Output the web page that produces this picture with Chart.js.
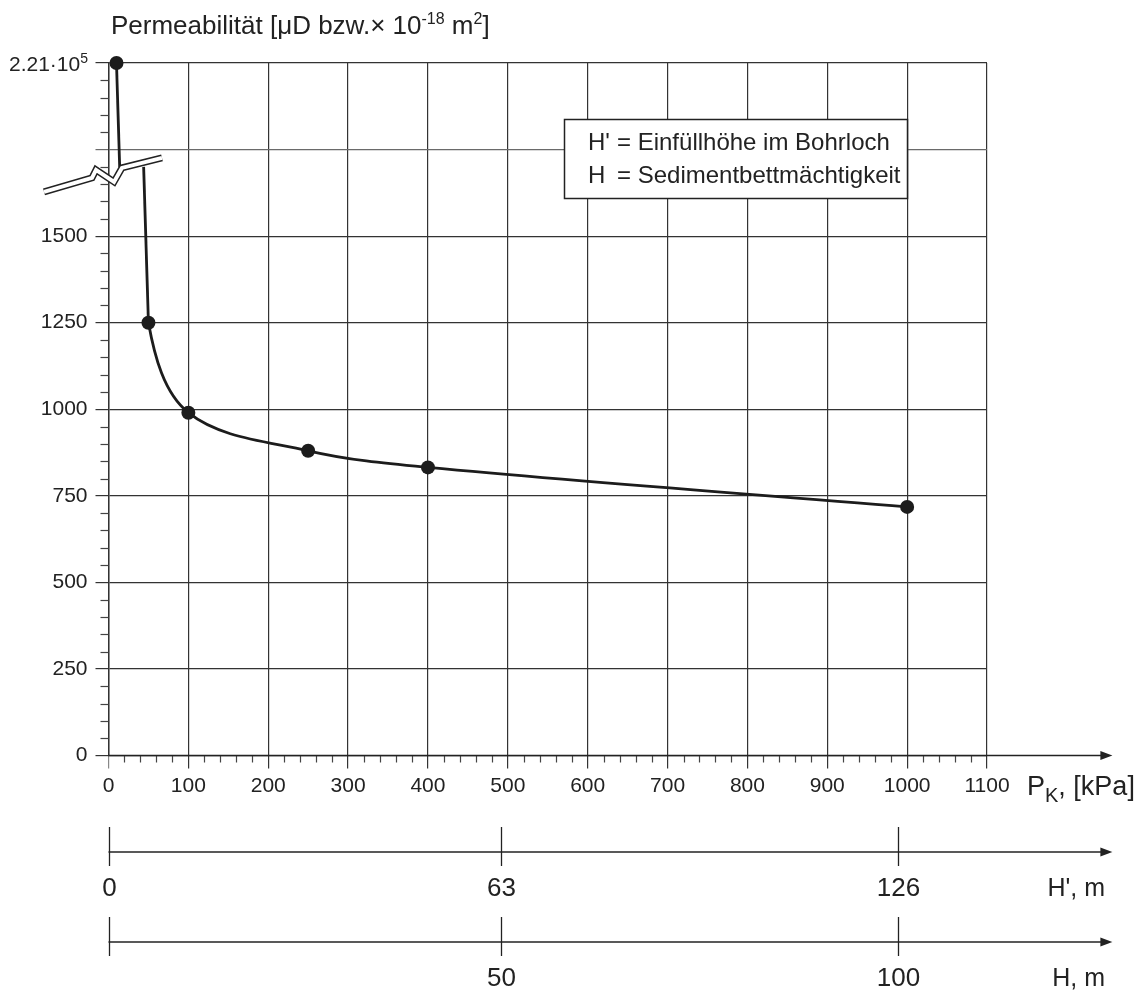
<!DOCTYPE html>
<html>
<head>
<meta charset="utf-8">
<script src="https://cdn.jsdelivr.net/npm/chart.js@4/dist/chart.umd.min.js"></script>
<style>
  html, body { margin: 0; padding: 0; background: #fff; }
  canvas { display: block; }
</style>
</head>
<body>
<canvas id="chart_permeability" width="1145" height="991"></canvas>
<script>
// values
const pressureKPa = [10, 50, 100, 250, 400, 1000];
const permeability = [221000, 1250, 990, 880, 832, 718];

// broken y axis: everything above breakFrom is drawn at axisTop
const breakFrom = 1750;
const breakLevel = 1700;
const axisTop = 2000;
const upperCurveEnd = 14;   // kPa where the steep piece runs into the break
const lowerCurveStart = 44; // kPa where the curve comes out of the break

const xTickValues = [0, 100, 200, 300, 400, 500, 600, 700, 800, 900, 1000, 1100];
const yTickValues = [0, 250, 500, 750, 1000, 1250, 1500];
const yTopLabel = ['2.21·10', '5'];

// secondary depth axes, tick positions in kPa
const hPrimeLabels = ['0', '63', '126'];
const hPrimeAtKPa = [0, 492, 988];
const hLabels = ['', '50', '100'];
const hAtKPa = [0, 492, 988];
const arrowEndKPa = 1257;

const legendLines = [['H\'', '= Einfüllhöhe im Bohrloch'], ['H', '= Sedimentbettmächtigkeit']];

const FONT = "'Liberation Sans', Arial, sans-serif";
const INK = '#222';
const LINE = '#1c1c1c';

const toAxis = v => (v > breakFrom ? axisTop : v);

const upperData = [
    { x: pressureKPa[0], y: toAxis(permeability[0]) },
    { x: upperCurveEnd, y: breakLevel },
];
const lowerData = [{ x: lowerCurveStart, y: breakLevel }].concat(
    pressureKPa.slice(1).map((p, i) => ({ x: p, y: toAxis(permeability[i + 1]) }))
);

function textRun(ctx, x, y, parts) {
    // parts: [text, size, dy]
    let cx = x;
    for (const [t, size, dy] of parts) {
        ctx.font = size + 'px ' + FONT;
        ctx.fillText(t, cx, y + dy);
        cx += ctx.measureText(t).width;
    }
    return cx;
}
function runWidth(ctx, parts) {
    let w = 0;
    for (const [t, size] of parts) {
        ctx.font = size + 'px ' + FONT;
        w += ctx.measureText(t).width;
    }
    return w;
}
function arrowLine(ctx, x0, x1, y) {
    ctx.beginPath();
    ctx.moveTo(x0, y);
    ctx.lineTo(x1 - 6, y);
    ctx.stroke();
    ctx.beginPath();
    ctx.moveTo(x1, y);
    ctx.lineTo(x1 - 12, y - 4.5);
    ctx.lineTo(x1 - 12, y + 4.5);
    ctx.closePath();
    ctx.fill();
}

const decorations = {
    id: 'decorations',
    afterDraw(chart) {
        const { ctx, chartArea } = chart;
        const xs = chart.scales.x;
        const ys = chart.scales.y;
        const L = chartArea.left, B = chartArea.bottom;
        ctx.save();
        ctx.fillStyle = INK;

        // minor ticks
        ctx.lineWidth = 1.2;
        ctx.strokeStyle = '#444';
        for (let v = 0; v <= axisTop; v += 50) {
            if (v % 250 === 0) continue;
            const py = Math.round(ys.getPixelForValue(v)) + 0.5;
            ctx.beginPath(); ctx.moveTo(L - 8, py); ctx.lineTo(L, py); ctx.stroke();
        }
        for (let v = 0; v <= 1100; v += 20) {
            if (v % 100 === 0) continue;
            const px = Math.round(xs.getPixelForValue(v)) + 0.5;
            ctx.beginPath(); ctx.moveTo(px, B); ctx.lineTo(px, B + 7); ctx.stroke();
        }

        // x axis with arrow
        ctx.strokeStyle = INK;
        ctx.lineWidth = 1.5;
        const arrowX = xs.getPixelForValue(arrowEndKPa);
        arrowLine(ctx, L, arrowX, B);

        // break symbol on the y axis
        const yb = ys.getPixelForValue(breakLevel);
        const zig = [[-64.5, 25], [-16.5, 11], [-12.5, 3], [5.5, 15], [13.5, 1], [53.5, -9]];
        ctx.lineJoin = 'miter';
        ctx.beginPath();
        zig.forEach(([dx, dy], i) => (i ? ctx.lineTo(L + dx, yb + dy) : ctx.moveTo(L + dx, yb + dy)));
        ctx.lineWidth = 7;
        ctx.strokeStyle = '#222';
        ctx.stroke();
        ctx.lineWidth = 4;
        ctx.strokeStyle = '#fff';
        ctx.stroke();

        // top y label 2.21·10^5
        ctx.fillStyle = INK;
        ctx.textBaseline = 'alphabetic';
        ctx.textAlign = 'left';
        const topParts = [[yTopLabel[0], 21, 0], [yTopLabel[1], 14, -8]];
        const ty = ys.getPixelForValue(axisTop) + 8;
        textRun(ctx, 88 - runWidth(ctx, topParts), ty, topParts);

        // title
        textRun(ctx, 111, 34, [
            ['Permeabilität [μD bzw.× 10', 26, 0], ['-18', 16, -10], [' m', 26, 0], ['2', 16, -10], [']', 26, 0],
        ]);

        // P_K label
        textRun(ctx, 1027, 795, [['P', 27, 0], ['K', 20, 7], [', [kPa]', 27, 0]]);

        // secondary axes
        const drawDepthAxis = (lineY, at, labels, name) => {
            ctx.strokeStyle = INK;
            ctx.fillStyle = INK;
            ctx.lineWidth = 1.3;
            arrowLine(ctx, L, arrowX, lineY);
            at.forEach((kpa, i) => {
                const px = Math.round(xs.getPixelForValue(kpa)) + 0.5;
                ctx.beginPath(); ctx.moveTo(px, lineY - 25); ctx.lineTo(px, lineY + 14); ctx.stroke();
                ctx.font = '26px ' + FONT;
                ctx.textAlign = 'center';
                ctx.fillText(labels[i], px, lineY + 44);
            });
            ctx.font = '25px ' + FONT;
            ctx.textAlign = 'right';
            ctx.fillText(name, 1105, lineY + 44);
            ctx.textAlign = 'left';
        };
        drawDepthAxis(852, hPrimeAtKPa, hPrimeLabels, 'H\', m');
        drawDepthAxis(942, hAtKPa, hLabels, 'H, m');

        // legend box
        ctx.fillStyle = '#fff';
        ctx.fillRect(564, 119, 343, 79);
        ctx.strokeStyle = INK;
        ctx.lineWidth = 1.5;
        ctx.strokeRect(564.5, 119.5, 343, 79);
        ctx.fillStyle = INK;
        ctx.font = '24px ' + FONT;
        legendLines.forEach(([sym, txt], i) => {
            const by = 150 + i * 33;
            ctx.fillText(sym, 588, by);
            ctx.fillText(txt, 617, by);
        });

        ctx.restore();
    },
};

Chart.defaults.font.family = FONT;
Chart.defaults.color = INK;

new Chart(document.getElementById('chart_permeability'), {
    type: 'line',
    data: {
        datasets: [
            {
                label: 'oberhalb Bruch',
                data: upperData,
                borderColor: LINE,
                borderWidth: 2.8,
                pointRadius: [7, 0],
                pointBackgroundColor: LINE,
                pointBorderWidth: 0,
                tension: 0,
                clip: false,
            },
            {
                // straight drop out of the break into the 50 kPa point
                label: 'Abfall',
                data: lowerData.slice(0, 2),
                borderColor: LINE,
                borderWidth: 2.8,
                pointRadius: 0,
                tension: 0,
                clip: false,
            },
            {
                label: 'Permeabilität',
                data: lowerData,
                borderColor: LINE,
                borderWidth: 2.8,
                segment: {
                    borderColor: ctx => (ctx.p0DataIndex === 0 ? 'rgba(0,0,0,0)' : LINE),
                },
                pointRadius: lowerData.map((_, i) => (i === 0 ? 0 : 7)),
                pointBackgroundColor: LINE,
                pointBorderWidth: 0,
                tension: 0.35,
                clip: false,
            },
        ],
    },
    options: {
        responsive: false,
        animation: false,
        devicePixelRatio: 1,
        layout: { padding: { left: 0, right: 158, top: 63, bottom: 0 } },
        plugins: {
            legend: { display: false },
            tooltip: { enabled: false },
        },
        scales: {
            x: {
                type: 'linear',
                min: 0,
                max: 1100,
                afterFit: scale => { scale.height = 235.5; },
                afterBuildTicks: scale => { scale.ticks = xTickValues.map(v => ({ value: v })); },
                ticks: {
                    font: { size: 21 },
                    padding: 5,
                    color: INK,
                    maxRotation: 0,
                    callback: v => String(v),
                },
                grid: {
                    color: ctx => (ctx.tick && ctx.tick.value === 0 ? '#888' : '#333'),
                    lineWidth: 1.2,
                    tickLength: 13,
                },
                border: { display: false },
            },
            y: {
                min: 0,
                max: axisTop,
                afterFit: scale => { scale.width = 108.5; },
                afterBuildTicks: scale => {
                    const t = [];
                    for (let v = 0; v <= axisTop; v += 250) t.push({ value: v });
                    scale.ticks = t;
                },
                ticks: {
                    font: { size: 21 },
                    padding: 8,
                    color: INK,
                    callback: v => (yTickValues.includes(v) ? String(v) : ''),
                },
                grid: {
                    color: ctx => (ctx.tick && ctx.tick.value === breakFrom ? '#6a6a6a' : '#333'),
                    lineWidth: 1.2,
                    tickLength: 13,
                },
                border: { display: true, color: '#333', width: 1.5 },
            },
        },
    },
    plugins: [decorations],
});
</script>
</body>
</html>
